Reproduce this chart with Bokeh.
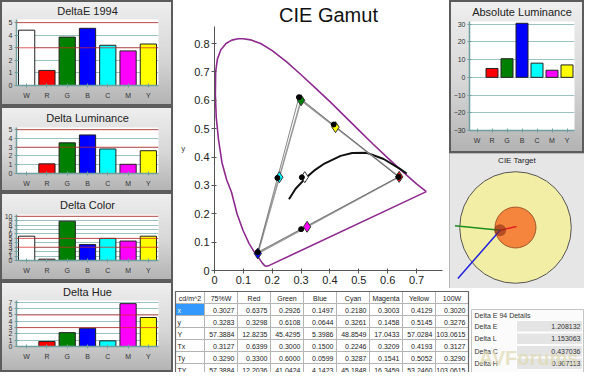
from bokeh.plotting import figure
from bokeh.layouts import row, column
from bokeh.models import Span, ColumnDataSource, FixedTicker, Range1d, FactorRange
from bokeh.core.properties import value
from bokeh.embed import file_html
from bokeh.resources import INLINE

FONT = "Liberation Sans"

# ---------------- data ----------------
categories = ["W", "R", "G", "B", "C", "M", "Y"]
bar_colors = ["#ffffff", "#ff0000", "#008000", "#0000ff", "#00ffff", "#ff00ff", "#ffff00"]

delta_e_1994 = [4.4, 1.2, 3.85, 4.55, 3.2, 2.75, 3.3]
delta_luminance = [0.0, 1.1, 3.5, 4.4, 2.8, 1.05, 2.6]
delta_color = [5.5, 0.3, 8.9, 3.6, 5.0, 4.4, 5.5]
delta_hue = [0.0, 0.8, 2.2, 2.9, 0.9, 6.8, 4.6]
absolute_luminance = [0.0, 5.0, 10.5, 30.5, 8.0, 4.0, 7.0]

threshold_lines = [3, 5]
threshold_lines_color = [3, 5, 10]

ticks_0_5 = [0, 1, 2, 3, 4, 5]
ticks_0_10 = [0, 1, 2, 3, 4, 5, 6, 7, 8, 9, 10]
ticks_0_7 = [0, 1, 2, 3, 4, 5, 6, 7]
ticks_abs = [-30, -20, -10, 0, 10, 20, 30]

# CIE 1931 spectral locus as drawn
locus_x = [0.734, 0.700, 0.650, 0.600, 0.550, 0.500, 0.450, 0.400, 0.350, 0.300, 0.250, 0.200,
           0.160, 0.125, 0.100, 0.082, 0.060, 0.040, 0.022, 0.010, 0.004, 0.003, 0.006, 0.014,
           0.026, 0.042, 0.059, 0.078, 0.099, 0.120, 0.140, 0.155, 0.166, 0.174, 0.180, 0.190, 0.734]
locus_y = [0.278, 0.305, 0.350, 0.397, 0.445, 0.495, 0.545, 0.595, 0.643, 0.690, 0.735, 0.775,
           0.800, 0.813, 0.817, 0.817, 0.812, 0.800, 0.778, 0.745, 0.700, 0.620, 0.540, 0.460,
           0.380, 0.320, 0.276, 0.200, 0.141, 0.095, 0.062, 0.042, 0.026, 0.017, 0.015, 0.018, 0.278]

planck_x = [0.258, 0.281, 0.314, 0.345, 0.381, 0.437, 0.477, 0.527, 0.586, 0.640, 0.666]
planck_y = [0.251, 0.288, 0.324, 0.352, 0.377, 0.404, 0.414, 0.415, 0.393, 0.360, 0.342]

gamut_ticks_x = [0, 0.1, 0.2, 0.3, 0.4, 0.5, 0.6, 0.7]
gamut_ticks_y = [0, 0.1, 0.2, 0.3, 0.4, 0.5, 0.6, 0.7, 0.8]

# table
table_header = ["cd/m^2", "75%W", "Red", "Green", "Blue", "Cyan", "Magenta", "Yellow", "100W"]
table_row_labels = ["x", "y", "Y", "Tx", "Ty", "TY"]
row_x = ["0.3027", "0.6375", "0.2926", "0.1497", "0.2180", "0.3003", "0.4129", "0.3020"]
row_y = ["0.3283", "0.3298", "0.6108", "0.0644", "0.3261", "0.1458", "0.5145", "0.3276"]
row_Y = ["57.3884", "12.8235", "45.4295", "5.3986", "48.8549", "17.0433", "57.0284", "103.0615"]
row_Tx = ["0.3127", "0.6399", "0.3000", "0.1500", "0.2246", "0.3209", "0.4193", "0.3127"]
row_Ty = ["0.3290", "0.3300", "0.6000", "0.0599", "0.3287", "0.1541", "0.5052", "0.3290"]
row_TY = ["57.3884", "12.2036", "41.0424", "4.1423", "45.1848", "16.3459", "53.2460", "103.0615"]
table_rows = [row_x, row_y, row_Y, row_Tx, row_Ty, row_TY]

# gamut points: measured (x, y) and targets (Tx, Ty): W R G B C M Y
meas_x = [float(v) for v in row_x[:7]]
meas_y = [float(v) for v in row_y[:7]]
targ_x = [float(v) for v in row_Tx[:7]]
targ_y = [float(v) for v in row_Ty[:7]]
triangle_order = [1, 2, 3, 1]

# delta E 94 details
detail_labels = ["Delta E", "Delta L", "Delta C", "Delta H"]
detail_values = ["1.208132", "1.153063", "0.437036", "0.907113"]

# CIE target (radii and vectors in target units)
target_rings = [3.0, 1.1]
measured_offset = (-0.83, -0.15)
vector_ends_x = [-3.26, 0.05, -3.10]
vector_ends_y = [0.10, 0.05, -2.74]
vector_colors = ["#1e8c1e", "#e02020", "#2222dd"]

TEAL = "#6f9f9f"
TEAL_GRID = "#9cc2c2"
PANEL_STYLE = {"background": "linear-gradient(to bottom, #efefef 0%, #d6d6d6 55%, #b2b2b2 100%)",
               "box-shadow": "inset 0 0 0 2px #5c5c5c"}


def bar_panel(title, vals, y0, y1, ticks, reds, w, h, bl, br, bt, bb):
    p = figure(x_range=FactorRange(factors=categories), y_range=Range1d(y0, y1),
               width=w, height=h, output_backend="svg", toolbar_location=None,
               min_border_left=bl, min_border_right=br, min_border_top=bt, min_border_bottom=bb)
    p.frame_align = False
    p.title.text = title
    p.title.text_font = FONT
    p.title.text_font_size = "11px"
    p.title.text_font_style = "normal"
    p.title.text_color = "#222222"
    p.title.align = "center"
    p.title.standoff = max(bt - 14, 2)
    p.border_fill_alpha = 0
    p.styles = PANEL_STYLE
    p.background_fill_color = "white"
    p.outline_line_color = None
    src = ColumnDataSource(dict(cat=categories, val=vals, color=bar_colors,
                                edge=[0.0 if v == 0 else 1.0 for v in vals]))
    p.vbar(x="cat", top="val", width=0.8, fill_color="color", line_color="#222222",
           line_alpha="edge", line_width=1, source=src)
    for r in reds:
        p.add_layout(Span(location=r, dimension="width", line_color="#d02828",
                          line_width=1, line_alpha=0.75, level="overlay"))
    p.xgrid.visible = False
    p.yaxis.ticker = FixedTicker(ticks=ticks)
    p.ygrid.ticker = FixedTicker(ticks=ticks)
    p.ygrid.grid_line_color = TEAL_GRID
    for ax in (p.xaxis[0], p.yaxis[0]):
        ax.axis_line_color = TEAL
        ax.axis_line_width = 1.5
        ax.major_tick_line_color = TEAL
        ax.major_tick_in = 2
        ax.major_tick_out = 2
        ax.minor_tick_line_color = None
        ax.major_label_text_font = FONT
        ax.major_label_text_font_size = "7px"
        ax.major_label_text_color = "#333333"
        ax.major_label_standoff = 2
    p.xaxis.major_label_standoff = 4
    return p


p1 = bar_panel("DeltaE 1994", delta_e_1994, 0, 5.25, ticks_0_5, threshold_lines, 173, 106, 16, 15, 19, 21)
p2 = bar_panel("Delta Luminance", delta_luminance, 0, 5.25, ticks_0_5, threshold_lines, 173, 86, 16, 15, 21, 19)
p3 = bar_panel("Delta Color", delta_color, 0, 10.4, ticks_0_10, threshold_lines_color, 173, 89, 16, 15, 22, 21)
p4 = bar_panel("Delta Hue", delta_hue, 0, 7.3, ticks_0_7, threshold_lines, 173, 91, 16, 15, 19, 26)
pa = bar_panel("Absolute Luminance", absolute_luminance, -30, 31.5, ticks_abs, [], 135, 153, 20, 10, 21, 23)

# ---------------- CIE gamut ----------------
pg = figure(width=276, height=288, x_range=Range1d(0, 0.79), y_range=Range1d(0, 0.86),
            output_backend="svg", toolbar_location=None, title="CIE Gamut",
            min_border_left=41, min_border_right=7, min_border_top=26, min_border_bottom=18)
pg.frame_align = False
pg.title.text_font = FONT
pg.title.text_font_size = "20px"
pg.title.text_font_style = "normal"
pg.title.text_color = "#111111"
pg.title.align = "center"
pg.title.standoff = 1
pg.outline_line_color = None
pg.grid.visible = False
pg.xaxis.ticker = FixedTicker(ticks=gamut_ticks_x)
pg.yaxis.ticker = FixedTicker(ticks=gamut_ticks_y)
for ax in (pg.xaxis[0], pg.yaxis[0]):
    ax.axis_line_color = "#555555"
    ax.major_tick_line_color = "#555555"
    ax.major_tick_in = 2
    ax.major_tick_out = 3
    ax.minor_tick_line_color = None
    ax.major_label_text_font = FONT
    ax.major_label_text_font_size = "11px"
    ax.major_label_text_color = "#222222"
    ax.major_label_standoff = 2
pg.yaxis.axis_label = "y"
pg.yaxis.axis_label_text_font = FONT
pg.yaxis.axis_label_text_font_size = "8px"
pg.yaxis.axis_label_text_font_style = "normal"
pg.yaxis.axis_label_orientation = "horizontal"
pg.yaxis.axis_label_standoff = 6

pg.line(locus_x, locus_y, line_color="#8e2a8e", line_width=1.6)
pg.line(planck_x, planck_y, line_color="#111111", line_width=2)
pg.line([targ_x[i] for i in triangle_order], [targ_y[i] for i in triangle_order],
        line_color="#9a9a9a", line_width=1.6)
pg.line([meas_x[i] for i in triangle_order], [meas_y[i] for i in triangle_order],
        line_color="#555555", line_width=0.7)
pg.scatter(targ_x, targ_y, marker="diamond", size=11, fill_color=bar_colors,
           line_color="#333333", line_width=1)
pg.scatter(meas_x, meas_y, marker="circle", size=5, fill_color="black", line_color="black")

# ---------------- CIE target ----------------
pt = figure(width=135, height=135, x_range=Range1d(-3.55, 3.71), y_range=Range1d(-3.28, 3.98),
            output_backend="svg", toolbar_location=None,
            x_axis_type=None, y_axis_type=None, min_border=0)
pt.frame_align = False
pt.border_fill_color = "#e6e6e6"
pt.background_fill_color = "#e6e6e6"
pt.outline_line_color = None
pt.styles = {"box-shadow": "inset 0 0 0 1px #8a8a8a"}
pt.circle(x=[0, 0], y=[0, 0], radius=target_rings, fill_color=["#f3eea6", "#f5853c"],
          line_color=["#555555", "#a0582a"], line_width=1)
for ex, ey, c in zip(vector_ends_x, vector_ends_y, vector_colors):
    pt.line([measured_offset[0], ex], [measured_offset[1], ey], line_color=c, line_width=1.5)
pt.circle(x=[measured_offset[0]], y=[measured_offset[1]], radius=0.32,
          fill_color="#8a2a10", fill_alpha=0.6, line_color=None)
pt.text(x=[0.08], y=[3.6], text=["CIE Target"], text_align="center", text_baseline="middle",
        text_font=value(FONT), text_font_size="8px", text_color="#222222")

# ---------------- table ----------------
col_w = [29] + [33] * 8
col_edges = [2]
for w in col_w:
    col_edges.append(col_edges[-1] + w)
ROW_H = 12
TOP = 3
cells = dict(l=[], r=[], t=[], b=[], fill=[])
texts = dict(x=[], y=[], txt=[], align=[], color=[])
all_rows = [table_header] + [[lab] + vals for lab, vals in zip(table_row_labels, table_rows)]
for ri, rvals in enumerate(all_rows):
    top = TOP + ri * ROW_H
    for ci, txt in enumerate(rvals):
        cells["l"].append(col_edges[ci])
        cells["r"].append(col_edges[ci + 1])
        cells["t"].append(top)
        cells["b"].append(top + ROW_H)
        selected = (ri == 1 and ci == 0)
        cells["fill"].append("#3399ff" if selected else "#ffffff")
        if ri == 0:
            texts["x"].append((col_edges[ci] + col_edges[ci + 1]) / 2)
            texts["align"].append("center")
        elif ci == 0:
            texts["x"].append(col_edges[ci] + 2)
            texts["align"].append("left")
        else:
            texts["x"].append(col_edges[ci + 1] - 3)
            texts["align"].append("right")
        texts["y"].append(top + ROW_H / 2 + 0.5)
        texts["txt"].append(txt)
        texts["color"].append("#ffffff" if selected else "#222222")

ptab = figure(width=297, height=84, x_range=Range1d(0, 297), y_range=Range1d(84, 0),
              output_backend="svg", toolbar_location=None, x_axis_type=None, y_axis_type=None,
              min_border=0)
ptab.frame_align = False
ptab.outline_line_color = None
ptab.background_fill_color = "white"
ptab.quad(left="l", right="r", top="t", bottom="b", fill_color="fill", line_color="#b4b4b4",
          line_width=1, source=ColumnDataSource(cells))
ptab.quad(left=[col_edges[0]], right=[col_edges[-1]], top=[TOP], bottom=[84],
          fill_color=None, line_color="#666666", line_width=1.2)
ptab.text(x="x", y="y", text="txt", text_align="align", text_color="color",
          text_baseline="middle", text_font=value(FONT), text_font_size="7px",
          source=ColumnDataSource(texts))

# ---------------- delta E 94 details ----------------
pd = figure(width=114, height=84, x_range=Range1d(0, 114), y_range=Range1d(84, 0),
            output_backend="svg", toolbar_location=None, x_axis_type=None, y_axis_type=None,
            min_border=0)
pd.frame_align = False
pd.outline_line_color = None
pd.background_fill_color = "white"
pd.quad(left=[1], right=[113], top=[21], bottom=[84], fill_color="#fbfbfb",
        line_color="#c4c4c4", line_width=1)
row_tops = [32 + i * 12.5 for i in range(len(detail_labels))]
pd.quad(left=[46] * 4, right=[112] * 4, top=row_tops, bottom=[t + 11.5 for t in row_tops],
        fill_color="#e4e4e4", line_color="#ffffff", line_width=1)
pd.text(x=[4], y=[26.5], text=["Delta E 94 Details"], text_baseline="middle",
        text_font=value(FONT), text_font_size="7px", text_color="#333333")
pd.text(x=[4] * 4, y=[t + 5.5 for t in row_tops], text=detail_labels, text_baseline="middle",
        text_font=value(FONT), text_font_size="7px", text_color="#333333")
pd.text(x=[110] * 4, y=[t + 5.5 for t in row_tops], text=detail_values, text_baseline="middle",
        text_align="right", text_font=value(FONT), text_font_size="7px", text_color="#333333")
pd.text(x=[58], y=[69], text=["AVForums"], text_baseline="middle", text_align="center",
        text_font=value(FONT), text_font_size="20px", text_font_style="bold",
        text_color="#ded9b0", text_alpha=0.7)

layout = row(
    column(p1, p2, p3, p4),
    column(row(pg, column(pa, pt)), row(ptab, pd)),
)

open("out.html", "w").write(file_html(layout, INLINE))
